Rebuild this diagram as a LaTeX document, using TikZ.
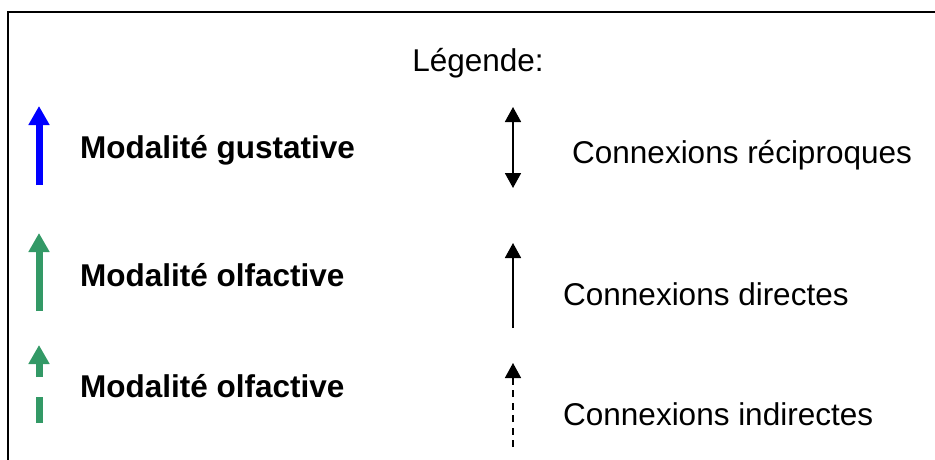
\documentclass[tikz,border=0pt]{standalone}
\usepackage{fontspec}
\setmainfont{Liberation Sans}
\usetikzlibrary{arrows.meta}
\definecolor{seagreen}{RGB}{51,153,102}

\begin{document}
\begin{tikzpicture}[x=1pt, y=-1pt]
\useasboundingbox (0,0) rectangle (935,460);
\draw[line width=2pt] (8,475) -- (8,12) -- (950,12);

\begin{scope}[every node/.style={inner sep=0pt, anchor=base west,
    font=\fontsize{31.5}{36}\selectfont}]
    \node[anchor=base] (leg) at (478,71) {Légende:};
    \node[font=\fontsize{31.5}{36}\selectfont\bfseries] (gus) at (80,158) {Modalité gustative};
    \node[font=\fontsize{31.5}{36}\selectfont\bfseries] (olf) at (80,286) {Modalité olfactive};
    \node[font=\fontsize{31.5}{36}\selectfont\bfseries] (olfi) at (80,397) {Modalité olfactive};
    \node (rec) at (572,163) {Connexions réciproques};
    \node (dir) at (563,305) {Connexions directes};
    \node (ind) at (563,425) {Connexions indirectes};
\end{scope}

% ends of the legend arrows
\coordinate (ga) at (39,185);  \coordinate (gb) at (39,106);
\coordinate (oa) at (39,311);  \coordinate (ob) at (39,233);
\coordinate (ia) at (39,423);  \coordinate (ib) at (39,345);
\coordinate (ra) at (513,188); \coordinate (rb) at (513,107);
\coordinate (da) at (513,328); \coordinate (db) at (513,243);
\coordinate (na) at (513,447); \coordinate (nb) at (513,363);

\begin{scope}[fat/.style={line width=7pt, -{Triangle[width=20pt,length=19pt]}},
              slim/.style={line width=1.8pt, -{Triangle[width=16pt,length=15pt]}}]
    \draw[fat, blue] (ga) -- (gb);
    \draw[fat, seagreen] (oa) -- (ob);
    \draw[fat, seagreen, dash pattern=on 26pt off 20pt on 40pt] (ia) -- (ib);
    \draw[slim, {Triangle[width=16pt,length=15pt]}-{Triangle[width=16pt,length=15pt]}] (ra) -- (rb);
    \draw[slim] (da) -- (db);
    \draw[slim, line width=1.5pt, dash pattern=on 7pt off 5.5pt] (na) -- (nb);
\end{scope}
\end{tikzpicture}
\end{document}
